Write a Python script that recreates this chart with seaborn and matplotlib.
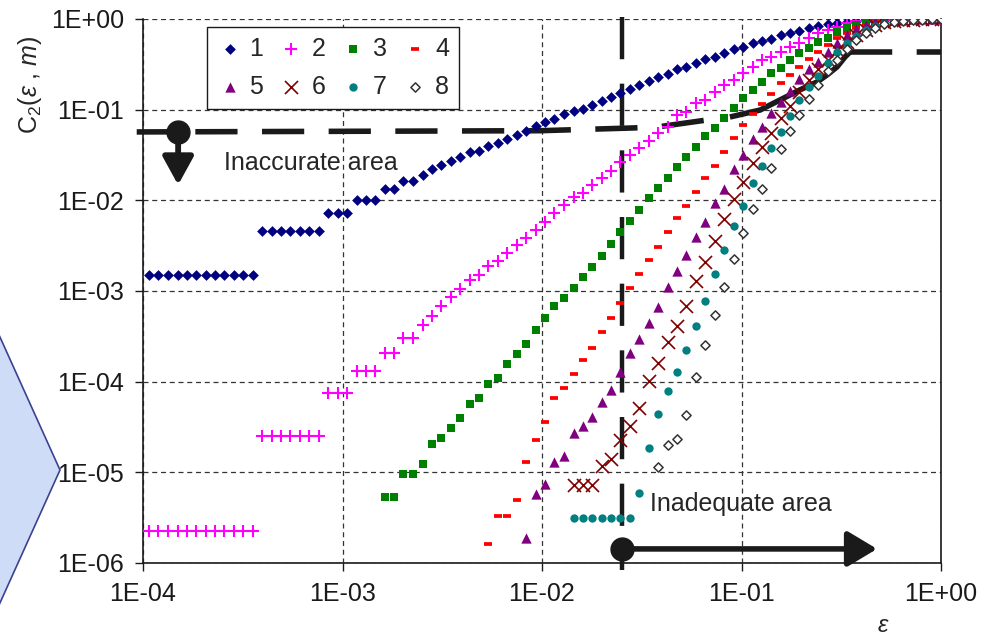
import matplotlib
matplotlib.use('Agg')
import numpy as np
import pandas as pd
import matplotlib.pyplot as plt
from matplotlib.patches import Polygon
from matplotlib.ticker import FixedLocator, NullLocator, FuncFormatter
import seaborn as sns

# epsilon grid (shared by all embedding dimensions, each series ends at eps = 1)
EPS = [1.07e-4, 1.19e-4, 1.33e-4, 1.49e-4, 1.66e-4, 1.85e-4, 2.06e-4, 2.30e-4, 2.56e-4, 2.85e-4,
       3.18e-4, 3.55e-4, 3.95e-4, 4.41e-4, 4.92e-4, 5.48e-4, 6.11e-4, 6.81e-4, 7.60e-4, 8.47e-4,
       9.44e-4, 1.05e-3, 1.18e-3, 1.31e-3, 1.46e-3, 1.63e-3, 1.82e-3, 2.02e-3, 2.25e-3, 2.52e-3,
       2.81e-3, 3.13e-3, 3.48e-3, 3.89e-3, 4.34e-3, 4.83e-3, 5.38e-3, 6.01e-3, 6.70e-3, 7.46e-3,
       8.32e-3, 9.29e-3, 1.04e-2, 1.15e-2, 1.29e-2, 1.44e-2, 1.60e-2, 1.78e-2, 1.99e-2, 2.22e-2,
       2.47e-2, 2.75e-2, 3.07e-2, 3.43e-2, 3.82e-2, 4.26e-2, 4.74e-2, 5.30e-2, 5.90e-2, 6.58e-2,
       7.35e-2, 8.19e-2, 9.12e-2, 0.102, 0.114, 0.127, 0.141, 0.157, 0.175, 0.195,
       0.218, 0.243, 0.271, 0.302, 0.337, 0.375, 0.419, 0.467, 0.520, 0.579,
       0.647, 0.721, 0.804, 0.897, 1.0]

# correlation integral C2(eps, m) for m = 1..8
C2_M1 = [1.50e-3, 1.50e-3, 1.50e-3, 1.50e-3, 1.50e-3, 1.50e-3, 1.50e-3, 1.50e-3, 1.50e-3, 1.50e-3,
         1.50e-3, 1.50e-3, 4.59e-3, 4.59e-3, 4.59e-3, 4.59e-3, 4.59e-3, 4.59e-3, 4.59e-3,
         7.25e-3, 7.25e-3, 7.25e-3, 1.01e-2, 1.01e-2, 1.01e-2, 1.33e-2, 1.33e-2, 1.63e-2, 1.63e-2,
         1.90e-2, 2.22e-2, 2.45e-2, 2.72e-2, 3.01e-2, 3.41e-2, 3.50e-2, 3.97e-2, 4.29e-2, 4.75e-2,
         5.26e-2, 5.82e-2, 6.61e-2, 7.31e-2, 7.89e-2,
         8.96e-2, 9.67e-2, 0.102, 0.113, 0.125, 0.138, 0.153, 0.169, 0.187, 0.207, 0.229, 0.247,
         0.281, 0.296, 0.327, 0.362, 0.381, 0.422, 0.467, 0.491, 0.544,
         0.572, 0.602, 0.666, 0.701, 0.737, 0.796, 0.837, 0.881, 0.904, 0.927, 0.950,
         0.96, 0.97, 0.975, 0.98, 0.985, 0.99, 0.995, 0.998, 1.0]
C2_M2 = [2.25e-6, 2.25e-6, 2.25e-6, 2.25e-6, 2.25e-6, 2.25e-6, 2.25e-6, 2.25e-6, 2.25e-6, 2.25e-6,
         2.25e-6, 2.25e-6, 2.52e-5, 2.52e-5, 2.52e-5, 2.52e-5, 2.52e-5, 2.52e-5, 2.52e-5,
         7.44e-5, 7.44e-5, 7.44e-5, 1.31e-4, 1.31e-4, 1.31e-4, 2.06e-4, 2.06e-4, 3.05e-4, 3.05e-4,
         4.22e-4, 5.30e-4, 6.84e-4, 8.59e-4, 1.05e-3, 1.32e-3, 1.50e-3, 1.89e-3, 2.14e-3, 2.62e-3,
         3.21e-3, 3.84e-3, 4.71e-3, 5.77e-3, 7.25e-3,
         8.89e-3, 1.09e-2, 1.21e-2, 1.48e-2, 1.76e-2, 2.11e-2, 2.65e-2, 3.16e-2, 3.78e-2, 4.51e-2,
         5.53e-2, 6.44e-2, 8.73e-2, 9.42e-2, 0.119, 0.128, 0.157, 0.187, 0.212, 0.254, 0.296,
         0.353, 0.381, 0.433, 0.491, 0.544, 0.617, 0.701, 0.756, 0.817, 0.904, 0.950,
         0.96, 0.97, 0.975, 0.98, 0.985, 0.99, 0.995, 0.998, 1.0]
C2_M3 = [5.35e-6, 5.35e-6, 9.59e-6, 9.59e-6,
         1.24e-5, 2.06e-5, 2.39e-5, 3.08e-5, 3.97e-5, 5.67e-5, 6.60e-5, 9.42e-5, 1.10e-4, 1.57e-4,
         2.02e-4, 2.60e-4, 3.72e-4, 5.04e-4, 6.84e-4,
         8.37e-4, 1.08e-3, 1.43e-3, 1.84e-3, 2.43e-3, 3.30e-3, 4.48e-3, 5.92e-3, 7.82e-3, 1.06e-2,
         1.37e-2, 1.76e-2, 2.33e-2, 3.01e-2, 3.88e-2, 5.13e-2, 6.28e-2, 8.09e-2, 0.104, 0.135, 0.165,
         0.202, 0.254, 0.288, 0.353, 0.422, 0.479, 0.557, 0.617, 0.719, 0.796, 0.859,
         0.927, 0.95, 0.975, 0.98, 0.985, 0.99, 0.995, 0.998, 1.0]
C2_M4 = [1.62e-6, 3.30e-6, 3.30e-6, 4.95e-6, 1.30e-5, 2.28e-5, 3.59e-5, 6.60e-5,
         8.51e-5, 1.22e-4, 1.73e-4, 2.35e-4, 3.53e-4, 5.04e-4, 7.38e-4, 1.08e-3, 1.54e-3, 2.20e-3,
         3.06e-3, 4.48e-3, 6.38e-3, 8.67e-3, 1.24e-2, 1.76e-2, 2.39e-2, 3.41e-2, 4.87e-2, 6.78e-2,
         8.96e-2,
         0.116, 0.149, 0.197, 0.241, 0.296, 0.362, 0.433, 0.517, 0.617, 0.701, 0.796,
         0.859, 0.927, 0.95, 0.975, 0.985, 0.99, 0.995, 0.998, 1.0]
C2_M5 = [1.89e-6, 5.77e-6, 7.44e-6, 1.30e-5,
         1.51e-5, 2.72e-5, 3.24e-5, 4.08e-5, 5.97e-5, 8.09e-5, 1.28e-4, 2.07e-4, 2.96e-4, 4.44e-4,
         6.67e-4, 1.11e-3, 1.66e-3, 2.50e-3, 3.94e-3, 5.77e-3, 9.35e-3, 1.33e-2, 2.22e-2, 3.16e-2,
         4.75e-2,
         6.44e-2, 9.19e-2, 0.122, 0.161, 0.218, 0.281, 0.336, 0.433, 0.544, 0.666, 0.776,
         0.859, 0.927, 0.95, 0.97, 0.98, 0.99, 0.995, 0.998, 1.0]
C2_M6 = [7.16e-6, 7.16e-6, 7.16e-6,
         1.17e-5, 1.40e-5, 2.28e-5, 3.24e-5, 5.13e-5, 1.02e-4, 1.61e-4, 2.74e-4, 4.11e-4, 6.84e-4,
         1.29e-3, 2.09e-3, 3.56e-3, 6.22e-3, 1.03e-2, 1.59e-2, 2.58e-2,
         3.88e-2, 5.53e-2, 8.09e-2, 0.110, 0.157, 0.212, 0.281, 0.353, 0.455, 0.557, 0.666,
         0.756, 0.859, 0.927, 0.95, 0.97, 0.985, 0.99, 0.998, 1.0]
C2_M7 = [3.10e-6, 3.10e-6, 3.10e-6, 3.10e-6, 3.10e-6, 3.10e-6, 3.10e-6,
         5.92e-6, 1.86e-5, 4.40e-5, 7.89e-5, 1.28e-4, 2.23e-4, 4.11e-4, 7.76e-4, 1.54e-3, 2.83e-3,
         5.21e-3, 8.67e-3, 1.55e-2,
         2.39e-2, 3.78e-2, 5.67e-2, 8.51e-2, 0.128, 0.178, 0.235, 0.327, 0.433, 0.544, 0.650,
         0.756, 0.837, 0.904, 0.95, 0.965, 0.98, 0.99, 0.995, 1.0]
C2_M8 = [1.15e-5, 1.98e-5, 2.33e-5, 4.29e-5, 1.13e-4, 2.54e-4, 5.37e-4, 1.11e-3, 2.25e-3, 4.36e-3,
         8.02e-3,
         1.33e-2, 2.27e-2, 3.68e-2, 5.82e-2, 8.63e-2, 0.131, 0.185, 0.264, 0.357, 0.461, 0.594,
         0.701, 0.796, 0.881, 0.927, 0.95, 0.97, 0.985, 0.995, 1.0]

M_LABELS = ['1', '2', '3', '4', '5', '6', '7', '8']

# accuracy threshold curve and the adequacy limit on epsilon
THR_EPS = [9.3e-5, 9.77e-3, 2.83e-2, 3.81e-2, 6.71e-2, 8.75e-2, 0.124, 0.156, 0.196, 0.239,
           0.268, 0.301, 0.330, 0.350, 1.0]
THR_C2 = [0.0568, 0.0586, 0.0628, 0.0646, 0.0769, 0.083, 0.0991, 0.128, 0.165, 0.202,
          0.241, 0.296, 0.381, 0.433, 0.433]
EPS_LIMIT = 0.0252

X_TICKS = [1e-4, 1e-3, 1e-2, 1e-1, 1e0]
Y_TICKS = [1e-6, 1e-5, 1e-4, 1e-3, 1e-2, 1e-1, 1e0]

# build a long table
frames = []
for lab, vals in zip(M_LABELS, [C2_M1, C2_M2, C2_M3, C2_M4, C2_M5, C2_M6, C2_M7, C2_M8]):
    frames.append(pd.DataFrame({'eps': EPS[len(EPS) - len(vals):], 'C2': vals, 'm': lab}))
df = pd.concat(frames, ignore_index=True)

STYLES = {
    '1': dict(marker='D', s=30, color='#000080', edgecolor='#000080', linewidth=0),
    '2': dict(marker='+', s=78, color='#FF00FF', edgecolor='#FF00FF', linewidth=1.5),
    '3': dict(marker='s', s=34, color='#008000', edgecolor='#008000', linewidth=0),
    '4': dict(marker='_', s=27, color='#FF0000', edgecolor='#FF0000', linewidth=2.7),
    '5': dict(marker='^', s=55, color='#800080', edgecolor='#800080', linewidth=0),
    '6': dict(marker='x', s=88, color='#800000', edgecolor='#800000', linewidth=1.2),
    '7': dict(marker='o', s=36, color='#008080', edgecolor='#008080', linewidth=0),
    '8': dict(marker='D', s=22, color='white', edgecolor='#333333', linewidth=1.1),
}

sns.set_theme(style='ticks')
plt.rcParams['font.family'] = ['Liberation Sans', 'DejaVu Sans']
plt.rcParams['mathtext.fontset'] = 'custom'
plt.rcParams['mathtext.rm'] = 'Liberation Sans'
plt.rcParams['mathtext.it'] = 'Liberation Sans:italic'

W, H = 990, 640
fig = plt.figure(figsize=(W / 100, H / 100), dpi=100)
ax = fig.add_axes([143 / W, 1 - 563 / H, 798 / W, 544 / H])

# light blue chevron shape peeking in from the slide at the left
fig.add_artist(Polygon([(-10 / W, 1 - 315 / H), (60 / W, 1 - 470 / H), (-10 / W, 1 - 625 / H)],
                       closed=True, transform=fig.transFigure, facecolor='#cfdcf8',
                       edgecolor='#3b4290', lw=1.2, zorder=0))

for lab in M_LABELS:
    sns.scatterplot(data=df[df['m'] == lab], x='eps', y='C2', ax=ax, label=lab,
                    zorder=3, **STYLES[lab])

ax.set_xscale('log')
ax.set_yscale('log')
ax.set_xlim(1e-4, 1)
ax.set_ylim(1e-6, 1)

# threshold curve: dashed, solid through the bend, dashed again at the top
ax.plot(THR_EPS[:5], THR_C2[:5], color='k', lw=4, ls=(1.45, (7.6, 4.4)),
        solid_capstyle='butt', dash_capstyle='butt', clip_on=False, zorder=2)
ax.plot(THR_EPS[5:14], THR_C2[5:14], color='k', lw=4, solid_capstyle='butt', zorder=2)
ax.plot(THR_EPS[13:], THR_C2[13:], color='k', lw=4, ls=(0, (7.6, 4.4)),
        dash_capstyle='butt', zorder=2)
ax.plot([EPS_LIMIT, EPS_LIMIT], [1.05, 8.4e-7], color='k', lw=3.2, ls=(0, (9.5, 5.5)),
        dash_capstyle='butt', clip_on=False, zorder=2)

# arrows marking the inaccurate / inadequate regions
ax.plot([1.5e-4], [0.0568], 'o', ms=16.5, color='k', zorder=5, clip_on=False)
ax.annotate('', xy=(1.5e-4, 0.0148), xytext=(1.5e-4, 0.0568),
            arrowprops=dict(arrowstyle='-|>,head_length=1.0,head_width=0.55', mutation_scale=17,
                            lw=4.2, color='k', shrinkA=0, shrinkB=0), zorder=5)
ax.plot([EPS_LIMIT], [1.43e-6], 'o', ms=16.5, color='k', zorder=5, clip_on=False)
ax.annotate('', xy=(0.478, 1.43e-6), xytext=(EPS_LIMIT, 1.43e-6),
            arrowprops=dict(arrowstyle='-|>,head_length=1.0,head_width=0.6', mutation_scale=18,
                            lw=4.0, color='k', shrinkA=0, shrinkB=0), zorder=5)
ax.text(2.55e-4, 0.0258, 'Inaccurate area', fontsize=18, ha='left', va='center', zorder=6)
ax.text(0.0347, 4.5e-6, 'Inadequate area', fontsize=18, ha='left', va='center', zorder=6)

# axes cosmetics (Excel look)
ax.xaxis.set_major_locator(FixedLocator(X_TICKS))
ax.yaxis.set_major_locator(FixedLocator(Y_TICKS))
ax.xaxis.set_minor_locator(NullLocator())
ax.yaxis.set_minor_locator(NullLocator())
fmt = FuncFormatter(lambda v, p: f'{v:.0E}')
ax.xaxis.set_major_formatter(fmt)
ax.yaxis.set_major_formatter(fmt)
ax.grid(True, which='major', color='#333333', lw=0.9, ls=(0, (4, 3)))
ax.set_axisbelow(True)
ax.tick_params(axis='both', which='major', direction='out', length=5.8, width=1,
               color='k', labelsize=18, labelcolor='k')
ax.tick_params(axis='y', pad=8)
ax.tick_params(axis='x', pad=8)
for side in ['left', 'bottom', 'right']:
    ax.spines[side].set_visible(True)
    ax.spines[side].set_color('k')
    ax.spines[side].set_linewidth(1.2)
ax.spines['top'].set_visible(False)
ax.set_xlabel('')
ax.set_ylabel('')

handles, labels = ax.get_legend_handles_labels()
order = [0, 4, 1, 5, 2, 6, 3, 7]
leg = ax.legend([handles[i] for i in order], [labels[i] for i in order], ncol=4,
                loc='upper left', bbox_to_anchor=(207 / W, 1 - 27 / H),
                bbox_transform=fig.transFigure, borderaxespad=0, fontsize=18,
                frameon=True, fancybox=False, framealpha=1, edgecolor='k',
                borderpad=0.4, labelspacing=0.55, handlelength=1.0,
                handletextpad=0.3, columnspacing=0.62, scatterpoints=1)
leg.get_frame().set_linewidth(1.0)
leg.set_zorder(10)

fig.text(30 / W, 1 - 85 / H, r'C$_2$($\mathit{ε}$ , $\mathit{m}$)', rotation=90,
         ha='center', va='center', fontsize=18)
fig.text(883 / W, 1 - 626 / H, 'ε', style='italic', ha='center', va='center', fontsize=17)

fig.savefig('out.png', dpi=100)
